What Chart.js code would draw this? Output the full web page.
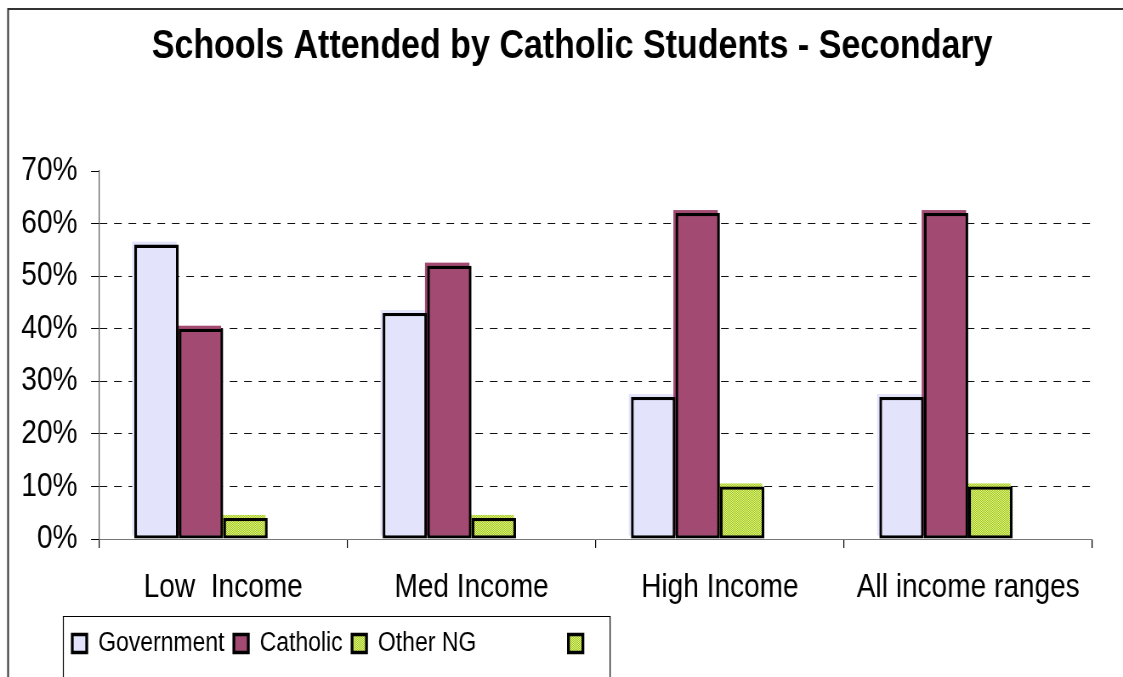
<!DOCTYPE html>
<html>
<head>
<meta charset="utf-8">
<title>Schools Attended by Catholic Students - Secondary</title>
<script src="https://cdn.jsdelivr.net/npm/chart.js@4/dist/chart.umd.min.js"></script>
<style>
  html, body { margin: 0; padding: 0; background: #fff; overflow: hidden; }
  /* the drawing surface is laid out wider and shown condensed, giving the narrow lettering */
  canvas { display: block; }
</style>
</head>
<body>
<canvas id="chart" width="1321" height="677" style="width:1123px;height:677px"></canvas>
<script>
// Share of Catholic secondary students by school type, per income band (%)
const categories = ['Low  Income', 'Med Income', 'High Income', 'All income ranges'];
const government = [56, 43, 27, 27];
const catholic = [40, 52, 62, 62];
const otherNG = [4, 4, 10, 10];
const unnamedSeries = [null, null, null, null];
const seriesNames = ['Government', 'Catholic', 'Other NG             ', ''];
const yTickValues = [0, 10, 20, 30, 40, 50, 60, 70];

const FONT = "'Liberation Sans', Arial, sans-serif";

// fine two-tone dither used for the "Other NG" fill
function dither(a, b) {
  const c = document.createElement('canvas');
  c.width = c.height = 2;
  const g = c.getContext('2d');
  g.fillStyle = a; g.fillRect(0, 0, 2, 2);
  g.fillStyle = b; g.fillRect(0, 0, 1, 1); g.fillRect(1, 1, 1, 1);
  return g.createPattern(c, 'repeat');
}
const greenFill = dither('#9CC80A', '#E4F29A');

// frame, offset bar fills, legend box, and placement of title/legend blocks
const decorations = {
  id: 'decorations',
  afterLayout(chart) {
    const t = chart.titleBlock;
    if (t) {
      const half = (t.right - t.left) / 2;
      t.left = 673 - half;
      t.right = 673 + half;
    }
    const lg = chart.legend;
    if (lg) lg.left = 74;
  },
  beforeDraw(chart) {
    const { ctx, width, height } = chart;
    ctx.save();
    ctx.fillStyle = '#fff';
    ctx.fillRect(0, 0, width, height);
    ctx.strokeStyle = '#333';
    ctx.lineWidth = 2;
    ctx.beginPath();
    ctx.moveTo(9.5, height);
    ctx.lineTo(9.5, 9);
    ctx.lineTo(width, 9);
    ctx.stroke();
    ctx.restore();
  },
  beforeDatasetsDraw(chart) {
    // each fill sits slightly up and to the left of its black outline
    const { ctx } = chart;
    ctx.save();
    chart.data.datasets.forEach((ds, i) => {
      const meta = chart.getDatasetMeta(i);
      meta.data.forEach(el => {
        const p = el.getProps(['x', 'y', 'base', 'width'], true);
        if (p.y == null || isNaN(p.y)) return;
        ctx.fillStyle = ds.backgroundColor;
        ctx.fillRect(p.x - p.width / 2 - 2.5, p.y - 3, p.width, p.base - p.y);
      });
    });
    ctx.restore();
  },
  afterDraw(chart) {
    const lg = chart.legend;
    if (!lg || !lg.legendHitBoxes.length) return;
    const hb = lg.legendHitBoxes;
    const last = hb[hb.length - 1];
    const left = lg.left + 0.5;
    const top = lg.top - 3 + 0.5;
    const right = last.left + last.width + 18 + 0.5;
    const { ctx } = chart;
    ctx.save();
    ctx.strokeStyle = '#000';
    ctx.lineWidth = 1.2;
    ctx.beginPath();
    ctx.moveTo(left, chart.height + 2);
    ctx.lineTo(left, top);
    ctx.lineTo(right, top);
    ctx.lineTo(right, chart.height + 2);
    ctx.stroke();
    ctx.restore();
  }
};

const barStyle = {
  borderColor: '#000',
  borderWidth: 3.3,
  borderSkipped: false,
  barPercentage: 1.0,
  categoryPercentage: 0.716
};

new Chart(document.getElementById('chart'), {
  type: 'bar',
  data: {
    labels: categories,
    datasets: [
      { label: seriesNames[0], data: government, backgroundColor: '#E3E3FC', ...barStyle },
      { label: seriesNames[1], data: catholic, backgroundColor: '#A34A72', ...barStyle },
      { label: seriesNames[2], data: otherNG, backgroundColor: greenFill, ...barStyle },
      { label: seriesNames[3], data: unnamedSeries, backgroundColor: greenFill, ...barStyle }
    ]
  },
  options: {
    responsive: false,
    animation: false,
    devicePixelRatio: 1,
    layout: { padding: { left: 0, right: 36, top: 0, bottom: 10 } },
    plugins: {
      tooltip: { enabled: false },
      title: {
        display: true,
        text: 'Schools Attended by Catholic Students - Secondary',
        color: '#000',
        font: { family: FONT, size: 40, weight: 'bold' },
        padding: { top: 23, bottom: 100 }
      },
      legend: {
        position: 'bottom',
        align: 'start',
        labels: {
          color: '#000',
          boxWidth: 17,
          boxHeight: 18,
          padding: 11,
          font: { family: FONT, size: 27 }
        }
      }
    },
    scales: {
      x: {
        grid: {
          offset: true,
          drawOnChartArea: false,
          drawTicks: true,
          tickLength: 9,
          color: '#000',
          lineWidth: 1.2
        },
        border: { color: '#777', width: 1 },
        ticks: {
          color: '#000',
          font: { family: FONT, size: 33 },
          padding: 20,
          maxRotation: 0,
          autoSkip: false
        },
        afterFit(scale) { scale.height = 80; }
      },
      y: {
        min: 0,
        max: 70,
        afterBuildTicks(scale) { scale.ticks = yTickValues.map(v => ({ value: v })); },
        ticks: {
          color: '#000',
          font: { family: FONT, size: 33 },
          padding: 16,
          callback: v => v + '%'
        },
        grid: {
          color: c => (c.tick && c.tick.value > 0 && c.tick.value < 70) ? '#111' : 'rgba(0,0,0,0)',
          tickColor: '#000',
          tickLength: 9.4,
          tickBorderDash: [],
          lineWidth: 1
        },
        border: { color: '#555', width: 1.2, dash: [9, 8] },
        afterFit(scale) { scale.width = 116.5; }
      }
    }
  },
  plugins: [decorations]
});
</script>
</body>
</html>
